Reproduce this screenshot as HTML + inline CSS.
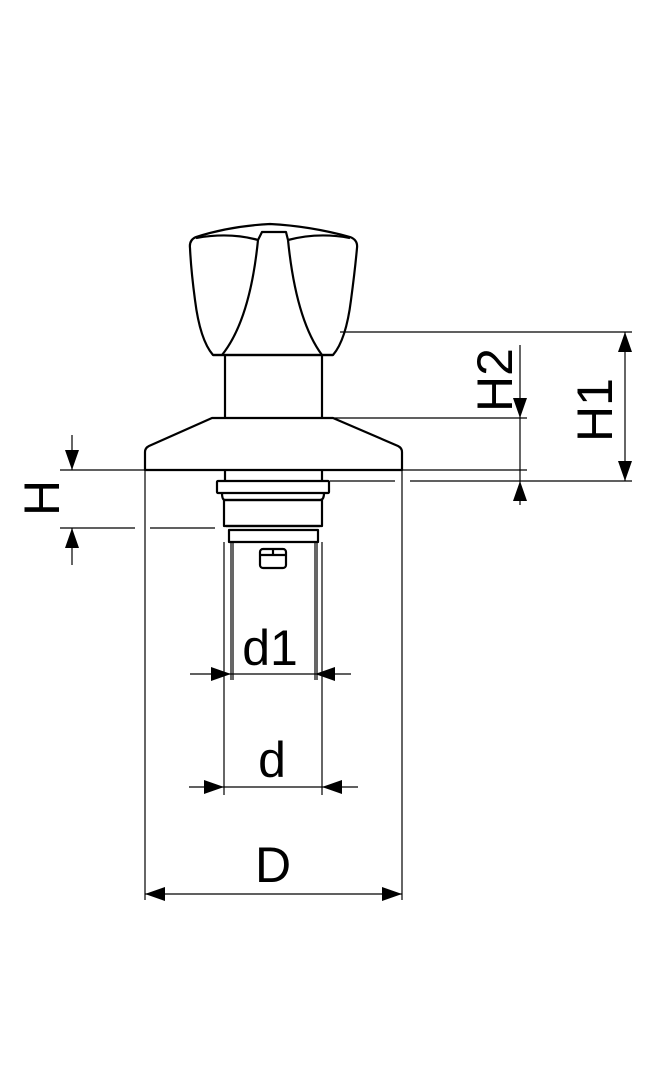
<!DOCTYPE html>
<html><head><style>body{margin:0;background:#fff}svg{display:block}</style></head><body>
<svg width="648" height="1080" viewBox="0 0 648 1080" xmlns="http://www.w3.org/2000/svg">
<defs>
<marker id="a" viewBox="0 0 20 14" refX="20" refY="7" markerWidth="20" markerHeight="14" markerUnits="userSpaceOnUse" orient="auto"><path d="M0,0L20,7L0,14Z" fill="#000"/></marker>
</defs>
<g fill="none" stroke="#000" stroke-width="2.2" stroke-linejoin="round">
<!-- knob -->
<path d="M213,355 Q200,340 195,300 Q191,270 190,248 Q189,240 196,237 Q230,226 270,224 Q310,226 350,237 Q358,240 357,248 Q355,270 351,300 Q346,340 333,355 Z" fill="#fff"/>
<path d="M258,240 Q250,320 222,355"/>
<path d="M288,240 Q296,320 322,355"/>
<path d="M258,240 L262,232 L286,232 L288,240"/>
<path d="M196,238 Q230,232 258,240 M288,240 Q318,232 350,238"/>
<!-- stem -->
<path d="M225,355 V418 M322,355 V418"/>
<path d="M213,355 H333"/>
<!-- flange -->
<path d="M212,418 H333 L398,446 Q402,448 402,452 V470 H145 V452 Q145,448 149,446 Z"/>
<!-- lower parts -->
<path d="M225,470 V481 M322,470 V481"/>
<rect x="217" y="481" width="112" height="12" rx="1"/>
<path d="M222,493 Q222,500 225,500 H320 Q324,500 324,493"/>
<rect x="224" y="500" width="98" height="26"/>
<rect x="229" y="530" width="89" height="12"/>
<path d="M226,526 H320"/>
<rect x="260" y="549" width="26" height="19" rx="3"/>
<path d="M260,555 H286 M273,549 V555"/>
</g>
<g fill="none" stroke="#000" stroke-width="1.2">
<path d="M231,542 V680 M315,542 V680 M233,542 V680 M317,542 V680"/>
<path d="M224,542 V795 M322,542 V795"/>
<path d="M145,470 V900 M402,470 V900"/>
<path d="M60,470 H527"/>
<path d="M60,528 H135 M150,528 H215"/>
<path d="M340,332 H632"/>
<path d="M333,418 H527"/>
<path d="M330,481 H395 M410,481 H632"/>
<path d="M72,435 V470" marker-end="url(#a)"/>
<path d="M72,565 V528" marker-end="url(#a)"/>
<path d="M520,345 V418" marker-end="url(#a)"/>
<path d="M520,505 V481" marker-end="url(#a)"/>
<path d="M520,418 V481"/>
<path d="M625,400 V332" marker-end="url(#a)"/>
<path d="M625,400 V481" marker-end="url(#a)"/>
<path d="M190,674 H231" marker-end="url(#a)"/>
<path d="M351,674 H315" marker-end="url(#a)"/>
<path d="M231,674 H315"/>
<path d="M189,787 H224" marker-end="url(#a)"/>
<path d="M358,787 H322" marker-end="url(#a)"/>
<path d="M224,787 H322"/>
<path d="M273,894 H145" marker-end="url(#a)"/>
<path d="M273,894 H402" marker-end="url(#a)"/>
</g>
<g font-family="Liberation Sans, sans-serif" font-size="50" fill="#000" text-anchor="middle">
<text x="270" y="665">d1</text>
<text x="272" y="777">d</text>
<text x="273" y="882">D</text>
<text transform="translate(59,498) rotate(-90)">H</text>
<text transform="translate(512,380) rotate(-90)">H2</text>
<text transform="translate(612,410) rotate(-90)">H1</text>
</g>
</svg>
</body></html>
